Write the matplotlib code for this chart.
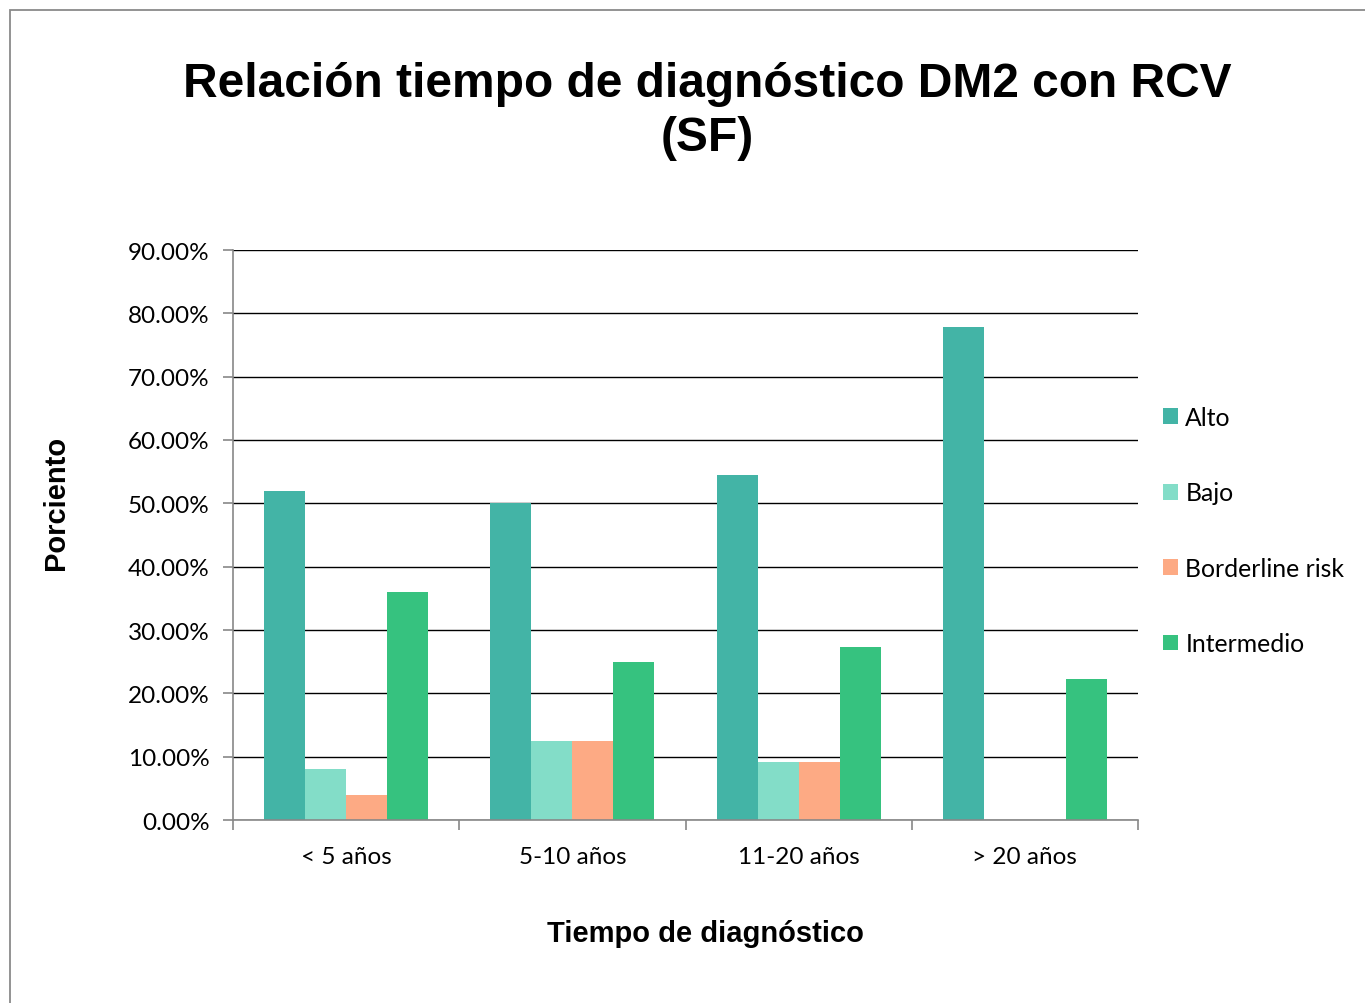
import matplotlib
matplotlib.use("Agg")
import matplotlib.pyplot as plt
from matplotlib.patches import Rectangle
import numpy as np

categories = ["< 5 años", "5-10 años", "11-20 años", "> 20 años"]
series_names = ["Alto", "Bajo", "Borderline risk", "Intermedio"]
alto = [52.0, 50.0, 54.55, 77.78]
bajo = [8.0, 12.5, 9.09, 0.0]
borderline = [4.0, 12.5, 9.09, 0.0]
intermedio = [36.0, 25.0, 27.27, 22.22]
yticks = [0, 10, 20, 30, 40, 50, 60, 70, 80, 90]
colors = ["#43B4A6", "#83DDC8", "#FDAA84", "#36C27F"]

series = [alto, bajo, borderline, intermedio]

tick_font = ["Lato", "DejaVu Sans"]
title_font = ["Liberation Sans", "DejaVu Sans"]

fig = plt.figure(figsize=(13.65, 10.04), dpi=100)
ax = fig.add_axes([233/1365, 1-821/1004, (1138-233)/1365, (821-251)/1004])

x = np.arange(len(categories))
w = 0.181
for i, (vals, name, c) in enumerate(zip(series, series_names, colors)):
    ax.bar(x + (i - 1.5) * w, vals, width=w, color=c, label=name, zorder=3)

ax.set_xlim(-0.5, len(categories) - 0.5)
ax.set_ylim(0, 90)
ax.set_yticks(yticks)
ax.set_yticklabels([f"{v:.2f}%" for v in yticks], fontsize=17.5, family=tick_font)
ax.set_xticks(x)
ax.set_xticklabels(categories, fontsize=17.5, family=tick_font)
ax.tick_params(axis="x", which="major", length=0, pad=19)
ax.set_xticks(np.arange(-0.5, len(categories), 1.0), minor=True)
ax.tick_params(axis="x", which="minor", length=7, color="#888888", width=1.2)
ax.tick_params(axis="y", length=7, color="#888888", width=1.2, pad=10)

ax.grid(axis="y", color="black", linewidth=1.0, zorder=0)
for s in ["top", "right"]:
    ax.spines[s].set_visible(False)
for s in ["left", "bottom"]:
    ax.spines[s].set_color("#888888")
    ax.spines[s].set_linewidth(1.2)
ax.spines["bottom"].set_zorder(4)

fig.text(707/1365, 1-111.5/1004, "Relación tiempo de diagnóstico DM2 con RCV\n(SF)",
         ha="center", va="center", fontsize=34.5, fontweight="bold",
         family=title_font, linespacing=1.26)
fig.text(56/1365, 1-503/1004, "Porciento", rotation=90, ha="center", va="center",
         fontsize=21, fontweight="bold", family=title_font)
fig.text(705/1365, 1-934/1004, "Tiempo de diagnóstico", ha="center", va="center",
         fontsize=21, fontweight="bold", family=title_font)

leg = fig.legend(loc="upper left", bbox_to_anchor=(1163/1365, 1-407/1004),
                 frameon=False, prop={"family": tick_font, "size": 17.8},
                 handlelength=0.6, handleheight=0.6, handletextpad=0.3,
                 labelspacing=2.12, borderaxespad=0, borderpad=0)

fig.patches.append(Rectangle((10/1365, -0.1), 1.2, 1 - 11/1004 + 0.1,
                             transform=fig.transFigure, fill=False,
                             edgecolor="#8a8a8a", linewidth=1.3))

fig.savefig("out.png", dpi=100)
